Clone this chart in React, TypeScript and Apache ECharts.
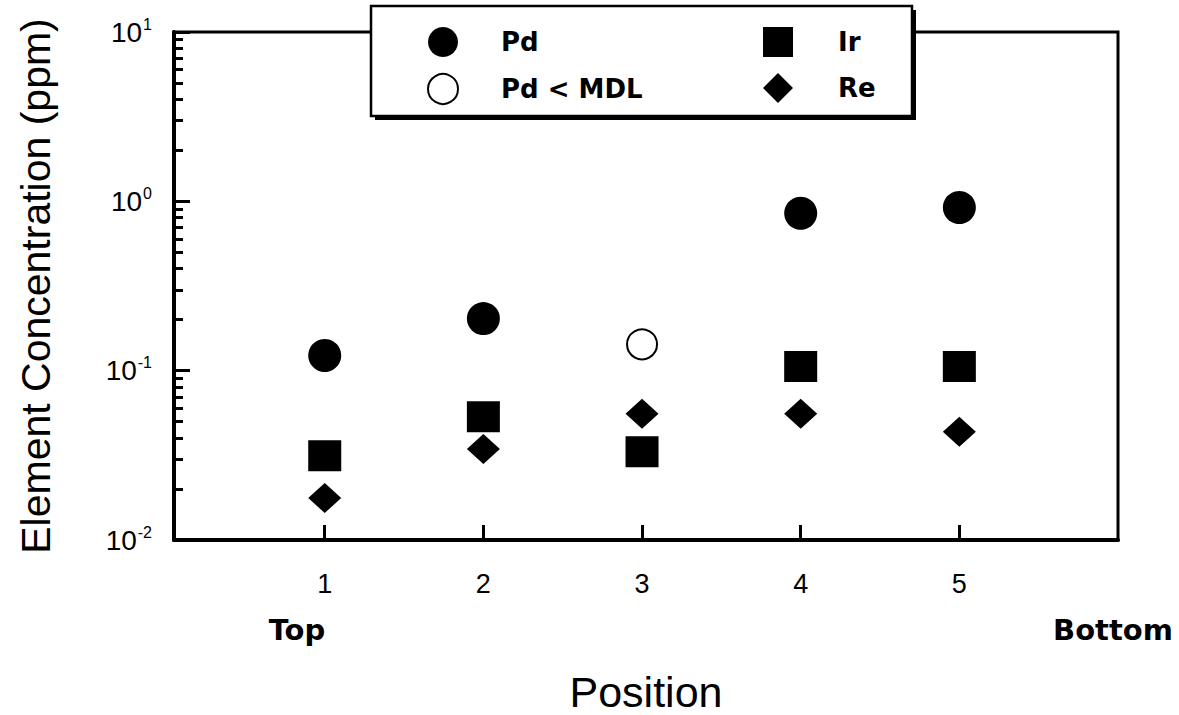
import React, { useEffect, useRef } from "react";
import * as echarts from "echarts";

const positions = [1, 2, 3, 4, 5];
const pdData = [[1, 0.123], [2, 0.203], [4, 0.85], [5, 0.92]];
const pdMdlData = [[3, 0.143]];
const irData = [[1, 0.0314], [2, 0.0534], [3, 0.0332], [4, 0.106], [5, 0.106]];
const reData = [[1, 0.0177], [2, 0.0345], [3, 0.0557], [4, 0.0557], [5, 0.0436]];
const minorTickValues = [
  0.02, 0.03, 0.04, 0.05, 0.06, 0.07, 0.08, 0.09,
  0.2, 0.3, 0.4, 0.5, 0.6, 0.7, 0.8, 0.9,
  2, 3, 4, 5, 6, 7, 8, 9,
];

const FONT = "Liberation Sans, Arial, sans-serif";
const BOLD_FONT = "DejaVu Sans, Liberation Sans, sans-serif";

export default function App() {
  const ref = useRef<HTMLDivElement>(null);
  useEffect(() => {
    const chart = echarts.init(ref.current!, null, { renderer: "svg" });
    const option: any = {
      animation: false,
      backgroundColor: "#fff",
      textStyle: { fontFamily: FONT, color: "#000" },
      grid: {
        left: 174, right: 61, top: 32, bottom: 175,
        show: true, borderColor: "#000", borderWidth: 3, backgroundColor: "transparent",
        outerBoundsMode: "none",
      },
      xAxis: {
        type: "value", min: 0.05, max: 6,
        name: "Position", nameLocation: "middle", nameGap: 130,
        nameTextStyle: { fontSize: 43, color: "#000", fontFamily: FONT },
        axisLine: { show: true, onZero: false, lineStyle: { color: "#000", width: 4 } },
        axisTick: { show: true, inside: true, length: 15, lineStyle: { color: "#000", width: 3 }, customValues: positions },
        axisLabel: { show: true, customValues: positions, fontSize: 27, color: "#000", margin: 30, fontFamily: FONT },
        splitLine: { show: false },
      },
      yAxis: [
        {
          type: "log", logBase: 10, min: 0.01, max: 10,
          name: "Element Concentration (ppm)", nameLocation: "middle", nameGap: 118,
          nameTextStyle: { fontSize: 41, color: "#000", fontFamily: FONT },
          axisLine: { show: true, lineStyle: { color: "#000", width: 4 } },
          axisTick: { show: true, inside: true, length: 16, lineStyle: { color: "#000", width: 3 } },
          axisLabel: {
            margin: 22, color: "#000",
            formatter: (v: number) => `{b|10}{s|${Math.round(Math.log10(v))}}`,
            rich: {
              b: { fontSize: 28, fontFamily: FONT, color: "#000" },
              s: { fontSize: 16, fontFamily: FONT, color: "#000", padding: [0, 0, 16, 1] },
            },
          },
          splitLine: { show: false },
        },
        {
          type: "value", min: -2, max: 1, position: "left",
          axisLine: { show: false },
          axisLabel: { show: false },
          splitLine: { show: false },
          axisTick: {
            show: true, inside: true, length: 9, lineStyle: { color: "#000", width: 3 },
            customValues: minorTickValues.map((v) => Math.log10(v)),
          },
        },
      ],
      legend: [
        {
          data: ["Pd", "Pd < MDL"], orient: "vertical", left: 427, top: 27, padding: 0,
          itemWidth: 30, itemHeight: 30, itemGap: 16, z: 20, selectedMode: false,
          textStyle: { fontSize: 26, fontWeight: "bold", color: "#000", fontFamily: BOLD_FONT, padding: [0, 0, 0, 38] },
        },
        {
          data: ["Ir", "Re"], orient: "vertical", left: 763, top: 27, padding: 0,
          itemWidth: 30, itemHeight: 30, itemGap: 16, z: 20, selectedMode: false,
          textStyle: { fontSize: 26, fontWeight: "bold", color: "#000", fontFamily: BOLD_FONT, padding: [0, 0, 0, 40] },
        },
      ],
      graphic: [
        { type: "rect", z: 10, shape: { x: 375, y: 10, width: 541, height: 110 }, style: { fill: "#000" } },
        { type: "rect", z: 11, shape: { x: 371, y: 6, width: 541, height: 110 }, style: { fill: "#fff", stroke: "#000", lineWidth: 2.5 } },
        { type: "text", z: 12, x: 297, y: 630, style: { text: "Top", font: `bold 29px ${BOLD_FONT}`, fill: "#000", align: "center", verticalAlign: "middle" } },
        { type: "text", z: 12, x: 1113, y: 630, style: { text: "Bottom", font: `bold 29px ${BOLD_FONT}`, fill: "#000", align: "center", verticalAlign: "middle" } },
      ],
      series: [
        { name: "Pd", type: "scatter", data: pdData, symbol: "circle", symbolSize: 33, itemStyle: { color: "#000", opacity: 1 } },
        { name: "Pd < MDL", type: "scatter", data: pdMdlData, symbol: "circle", symbolSize: 30, itemStyle: { color: "#fff", borderColor: "#000", borderWidth: 2, opacity: 1 } },
        { name: "Ir", type: "scatter", data: irData, symbol: "rect", symbolSize: [33, 31], itemStyle: { color: "#000", opacity: 1 } },
        { name: "Re", type: "scatter", data: reData, symbol: "diamond", symbolSize: [33, 30], itemStyle: { color: "#000", opacity: 1 } },
      ],
    };
    chart.setOption(option);
    return () => chart.dispose();
  }, []);
  return <div ref={ref} style={{ position: "absolute", left: 0, top: 0, width: 1179, height: 715 }} />;
}
